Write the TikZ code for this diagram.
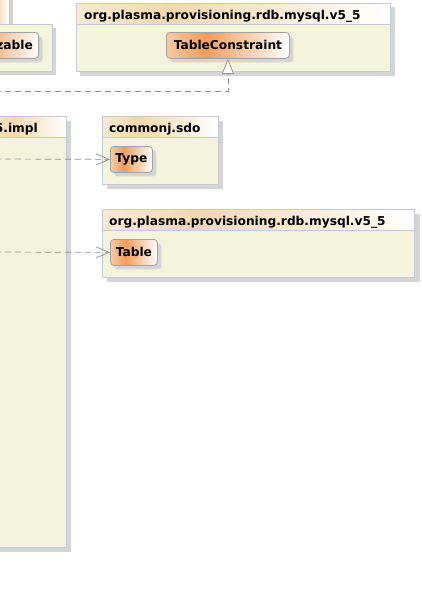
\documentclass[tikz,border=0pt]{standalone}
\usepackage{fontspec}
\setmainfont{DejaVu Sans}
\usepackage{tikz}
\usetikzlibrary{arrows.meta,shadows}
\definecolor{pkgline}{HTML}{C3CADB}
\definecolor{pkgfill}{HTML}{F4F3DC}
\definecolor{shade}{HTML}{D5D5D5}
\definecolor{clsline}{HTML}{A2A2A2}
\definecolor{clsleft}{HTML}{F7CBA6}
\definecolor{clsorange}{HTML}{EF9D5C}
\definecolor{hdrleft}{HTML}{FAEAD3}
\definecolor{hdrpeach}{HTML}{F4D8AE}
\definecolor{dep}{HTML}{8E8E8E}
\pgfdeclarehorizontalshading{clsshade}{100bp}{color(0bp)=(clsleft); color(25bp)=(clsleft); color(41bp)=(clsorange); color(75bp)=(white); color(100bp)=(white)}
\pgfdeclarehorizontalshading{hdrshade}{100bp}{color(0bp)=(hdrleft); color(25bp)=(hdrleft); color(40bp)=(hdrpeach); color(75bp)=(white); color(100bp)=(white)}
\tikzset{
  pkgshadow/.style={fill=shade},
  pkgbody/.style={fill=pkgfill, draw=pkgline, line width=0.9pt},
  pkgtab/.style={shading=hdrshade, draw=pkgline, line width=0.9pt},
  pkglabel/.style={font=\fontsize{12.2}{14}\selectfont\bfseries, inner sep=0pt, anchor=base west},
  cls/.style={shading=clsshade, draw=clsline, line width=0.8pt, rounded corners=3.5pt,
    font=\fontsize{12.2}{14}\selectfont\bfseries, inner sep=0pt, minimum height=26pt,
    drop shadow={shadow xshift=4pt, shadow yshift=-4pt, fill=shade, opacity=1}},
  depline/.style={draw=dep, line width=0.7pt, dash pattern=on 6pt off 4pt,
    -{Straight Barb[length=13pt,width=11pt]}},
  realline/.style={draw=dep, line width=0.7pt, dash pattern=on 6pt off 4pt,
    -{Triangle[length=15pt,width=12pt,fill=white]}}
}
\begin{document}
\begin{tikzpicture}[x=1pt,y=-1pt]
  \useasboundingbox (0,0) rectangle (422,590);
  \fill[white] (0,0) rectangle (422,590);
  \clip (0,0) rectangle (422,590);

  % packages
  \fill[pkgshadow] (-6,-6) rectangle (13,28);
  \fill[pkgshadow] (-6,28) rectangle (56,75);
  \draw[pkgtab] (-10,-10) rectangle (9,24);
  \draw[pkgbody] (-10,24) rectangle (52,71);

  \fill[pkgshadow] (80,7) rectangle (395,76);
  \draw[pkgtab] (76,3) rectangle (390,24);
  \draw[pkgbody] (76,24) rectangle (390,71);
  \node[pkglabel] (pkgtop) at (84,19) {org.plasma.provisioning.rdb.mysql.v5\_5};

  \fill[pkgshadow] (-5,121) rectangle (71,552);
  \draw[pkgtab] (-10,116) rectangle (66,137);
  \draw[pkgbody] (-10,137) rectangle (66,547);
  \node[pkglabel, anchor=base east] (pkgimpl) at (38,132) {org.plasma.provisioning.rdb.mysql.v5\_5.impl};

  \fill[pkgshadow] (107,121) rectangle (223,189);
  \draw[pkgtab] (102,116) rectangle (218,137);
  \draw[pkgbody] (102,137) rectangle (218,184);
  \node[pkglabel] (pkgsdo) at (109,132) {commonj.sdo};

  \fill[pkgshadow] (107,214) rectangle (420,282);
  \draw[pkgtab] (102,209) rectangle (414,230);
  \draw[pkgbody] (102,230) rectangle (414,277);
  \node[pkglabel] (pkglow) at (109,225) {org.plasma.provisioning.rdb.mysql.v5\_5};

  % classes
  \node[cls, minimum width=92pt, anchor=north east] (ser) at (39,32) {Serializable};
  \node[cls, minimum width=123pt, anchor=north west] (tc) at (166,32) {TableConstraint};
  \node[cls, minimum width=42pt, anchor=north west] (type) at (110,146) {Type};
  \node[cls, minimum width=47pt, anchor=north west] (table) at (110,239) {Table};

  % connectors
  \coordinate (rsrc) at (-5,91);
  \coordinate (dsrc1) at (-5,159);
  \coordinate (dsrc2) at (-5,252);
  \draw[realline] (rsrc) -| (tc.south);
  \draw[depline] (dsrc1) -- (type.west);
  \draw[depline] (dsrc2) -- (table.west);
\end{tikzpicture}
\end{document}
